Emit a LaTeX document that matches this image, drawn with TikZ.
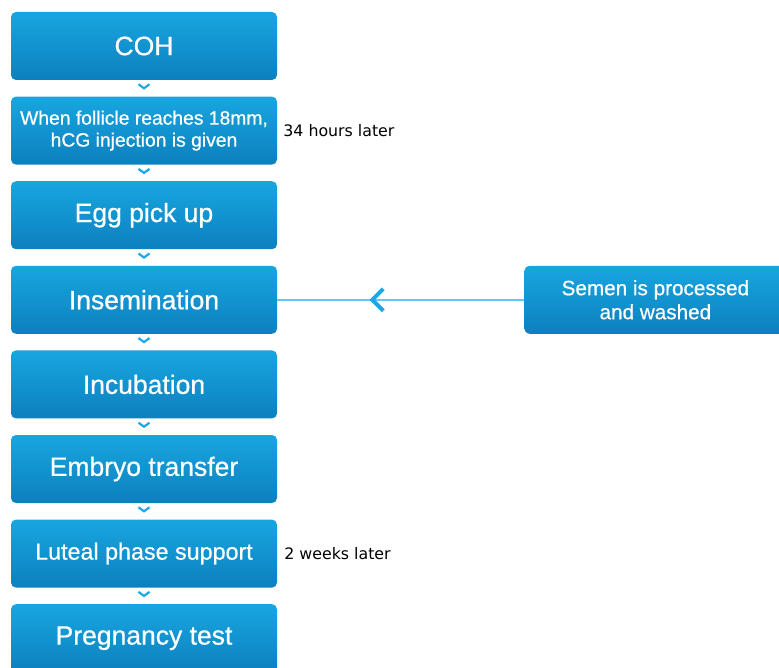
\documentclass[tikz,border=0pt]{standalone}
\usepackage{fontspec}
\setmainfont{Liberation Sans}
\newfontfamily\boxfont{Liberation Sans}[FakeBold=0.6]
\newfontfamily\notefont{DejaVu Sans}
\usetikzlibrary{positioning,decorations.markings}
\definecolor{IvfTop}{RGB}{24,166,224}
\definecolor{IvfBottom}{RGB}{12,128,190}
\definecolor{IvfChevron}{RGB}{28,168,232}
\definecolor{IvfLine}{RGB}{95,200,245}
\tikzset{
  ivf box/.style={
    rectangle,
    rounded corners=5pt,
    top color=IvfTop,
    bottom color=IvfBottom,
    text=white,
    align=center,
    inner sep=0pt,
    minimum width=266pt,
    minimum height=68pt,
    font=\boxfont\fontsize{26.5}{30}\selectfont
  },
  ivf small/.style={ivf box, font=\boxfont\fontsize{19.3}{22}\selectfont},
  ivf mid/.style={ivf box, font=\boxfont\fontsize{23.3}{27}\selectfont},
  ivf side/.style={ivf box, minimum width=262pt, font=\boxfont\fontsize{20.7}{24}\selectfont},
  ivf note/.style={font=\notefont\fontsize{15.8}{18}\selectfont, text=black, inner sep=0pt},
  ivf step/.style={postaction=decorate, decoration={markings,
    mark=at position 0.5 with {\draw[IvfChevron, line width=2.2pt] (-4pt,5.5pt) -- (0pt,0pt) -- (-4pt,-5.5pt);}}},
  ivf link/.style={IvfLine, line width=1.5pt, postaction=decorate, decoration={markings,
    mark=at position 0.615 with {\draw[IvfChevron, line width=4pt] (-11pt,11pt) -- (0pt,0pt) -- (-11pt,-11pt);}}}
}

\begin{document}
\begin{tikzpicture}[x=1pt, y=-1pt, node distance=16.2pt and 247pt]
\useasboundingbox (0,0) rectangle (779,668);
\node[ivf box] (coh) at (144,46) {COH};
\node[ivf small, below=of coh] (hcg) {When follicle reaches 18mm,\\hCG injection is given};
\node[ivf box, below=of hcg] (egg) {Egg pick up};
\node[ivf box, below=of egg] (insem) {Insemination};
\node[ivf box, below=of insem] (incub) {Incubation};
\node[ivf box, below=of incub] (embryo) {Embryo transfer};
\node[ivf mid, below=of embryo] (luteal) {Luteal phase support};
\node[ivf box, below=of luteal] (preg) {Pregnancy test};
\node[ivf side, right=of insem] (semen) {Semen is processed\\and washed};
\node[ivf note, right=6pt of hcg] (hours) {34 hours later};
\node[ivf note, right=7pt of luteal] (weeks) {2 weeks later};
\foreach \a/\b in {coh/hcg, hcg/egg, egg/insem, insem/incub, incub/embryo, embryo/luteal, luteal/preg}
  \path[ivf step] (\a) -- (\b);
\draw[ivf link] (semen) -- (insem);
\end{tikzpicture}
\end{document}
